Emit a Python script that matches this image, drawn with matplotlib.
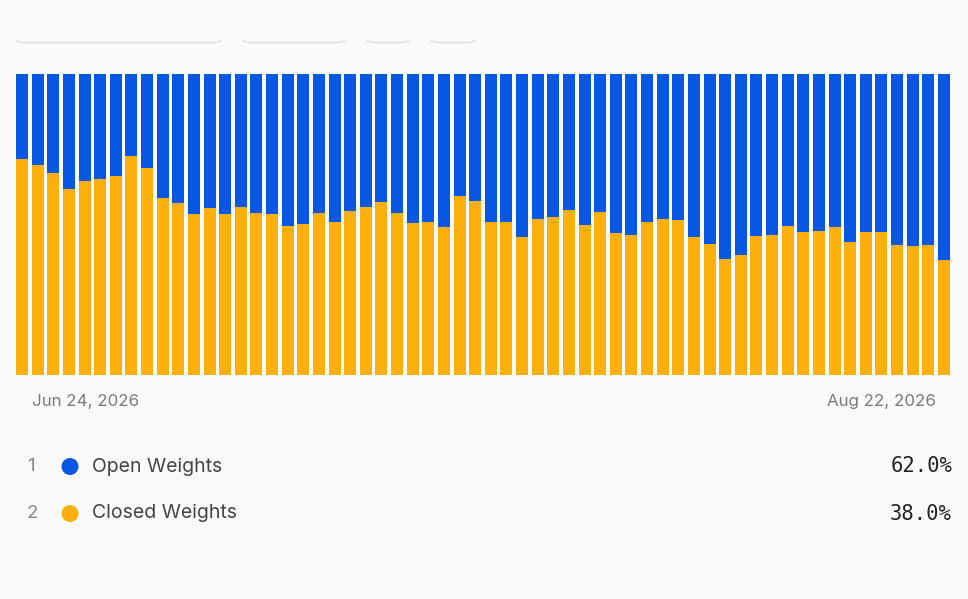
import matplotlib
matplotlib.use("Agg")
import matplotlib.pyplot as plt
import numpy as np
import pandas as pd
from matplotlib.patches import Circle, PathPatch
from matplotlib.path import Path
from matplotlib.transforms import IdentityTransform

# ---- data ----
dates = pd.date_range("2026-06-24", "2026-08-22", freq="D")
closed_weights = [71.5, 69.8, 67.0, 61.7, 64.3, 65.1, 65.9, 72.5, 68.7, 58.6,
                  57.0, 53.4, 55.4, 53.3, 55.8, 53.8, 53.5, 49.3, 50.2, 53.6,
                  50.9, 54.3, 55.6, 57.5, 53.6, 50.4, 50.9, 49.0, 59.4, 57.8,
                  50.9, 50.8, 45.9, 51.6, 52.4, 54.6, 49.9, 54.1, 47.2, 46.6,
                  50.9, 51.9, 51.5, 45.9, 43.3, 38.6, 39.7, 46.0, 46.3, 49.4,
                  47.3, 47.6, 49.1, 44.2, 47.4, 47.3, 43.0, 42.7, 43.0, 38.0]
open_weights = [100.0 - v for v in closed_weights]
series_names = ["Open Weights", "Closed Weights"]
first_label = "Jun 24, 2026"
last_label = "Aug 22, 2026"

BG = "#fafafa"
BLUE = "#0857e2"
ORANGE = "#fdb00c"

W, H = 968, 599
fig = plt.figure(figsize=(W / 100, H / 100), dpi=100, facecolor=BG)

ax = fig.add_axes([16 / W, 1 - 375 / H, (950 - 16) / W, (375 - 73.5) / H])
ax.set_facecolor(BG)
x = np.arange(len(dates))
bw = 0.77
ax.bar(x, closed_weights, width=bw, color=ORANGE, linewidth=0)
ax.bar(x, open_weights, bottom=closed_weights, width=bw, color=BLUE, linewidth=0)
ax.set_xlim(-bw / 2, len(dates) - 1 + bw / 2)
ax.set_ylim(0, 100)
ax.axis("off")

# bottom edges of top controls (only bottom edge visible)
yb = H - 42.5
for x0, x1 in [(16, 221), (243, 345), (367, 409), (431, 475)]:
    r = 6
    verts = [(x0, yb + 2.5), (x0 + 1, yb + 0.5), (x0 + r, yb),
             (x1 - r, yb), (x1 - 1, yb + 0.5), (x1, yb + 2.5)]
    codes = [Path.MOVETO, Path.CURVE3, Path.CURVE3,
             Path.LINETO, Path.CURVE3, Path.CURVE3]
    p = PathPatch(Path(verts, codes), transform=IdentityTransform(),
                  facecolor="none", edgecolor="#e2e2e2", linewidth=1.2)
    fig.patches.append(p)

font = ["Inter", "DejaVu Sans"]

def fx(px):
    return px / W

def fy(py):
    return 1 - py / H

fig.text(fx(32), fy(401.5), first_label, fontsize=12.2, color="#7a7a7a",
         ha="left", va="center", family=font)
fig.text(fx(936), fy(401.5), last_label, fontsize=12.2, color="#7a7a7a",
         ha="right", va="center", family=font)

vals = [open_weights[-1], closed_weights[-1]]
cols = [BLUE, ORANGE]
for i, (name, col, v) in enumerate(zip(series_names, cols, vals)):
    yy = 466.5 + i * 47
    fig.text(fx(27), fy(yy), str(i + 1), fontsize=13.5, color="#888888",
             ha="left", va="center", family=font)
    c = Circle((70, H - yy), 8.5, transform=IdentityTransform(),
               facecolor=col, edgecolor="none")
    fig.patches.append(c)
    fig.text(fx(92), fy(yy), name, fontsize=14, color="#444444",
             ha="left", va="center", family=font)
    fig.text(fx(952), fy(yy), f"{v:.1f}%", fontsize=14.8, color="#222222",
             ha="right", va="center", family=["DejaVu Sans Mono"])

fig.savefig("out.png", dpi=100, facecolor=BG)
